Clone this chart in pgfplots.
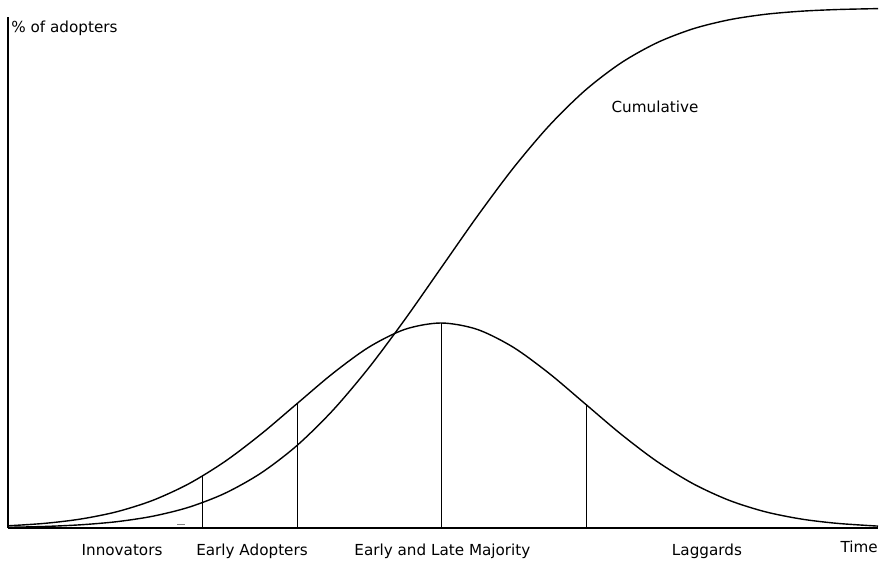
\documentclass[border=0pt]{standalone}
\usepackage{pgfplots}
\pgfplotsset{compat=1.18}
\usepackage{fontspec}
\setmainfont{DejaVu Sans}
\newcommand\lbl{\fontsize{11.4}{13.5}\selectfont}
\begin{document}
\begin{tikzpicture}
\path[use as bounding box] (-6pt,-24.75pt) rectangle (657pt,396pt);
\begin{axis}[
  scale only axis,
  width=652.5pt, height=383.25pt,
  xmin=-3.007, xmax=3.035,
  ymin=0, ymax=511,
  axis x line=bottom, axis y line=left,
  axis line style={-, line width=1.1pt},
  xtick=\empty, ytick=\empty,
  clip=false,
]
% bell curve (adopters per period)
\addplot[black, line width=1.05pt, smooth] coordinates {
(-3.007,2.2) (-2.75,4.67) (-2.5,9.01) (-2.25,16.31) (-2.0,27.74) (-1.75,44.34)
(-1.5,66.55) (-1.25,93.86) (-1.0,124.34) (-0.75,154.74) (-0.5,180.91)
(-0.25,198.69) (0,205) (0.25,198.69) (0.5,180.91) (0.75,154.74) (1.0,124.34)
(1.25,93.86) (1.5,66.55) (1.75,44.34) (2.0,27.74) (2.25,16.31) (2.5,9.01)
(2.75,4.67) (3.035,1.9)
};
% cumulative
\addplot[black, line width=1.05pt, smooth] coordinates {
(-3.007,0.68) (-2.75,1.55) (-2.5,3.23) (-2.25,6.35) (-2.0,11.83) (-1.75,20.83)
(-1.5,34.74) (-1.25,54.94) (-1.0,82.50) (-0.75,117.85) (-0.5,160.44)
(-0.25,208.67) (0,260) (0.25,311.33) (0.5,359.56) (0.75,402.15) (1.0,437.50)
(1.25,465.06) (1.5,485.26) (1.75,499.17) (2.0,508.17) (2.25,513.65)
(2.5,516.77) (2.75,518.45) (3.035,519.4)
};
% category separators
\addplot[black, line width=0.6pt] coordinates {(-1.66,0) (-1.66,51.7)};
\addplot[black, line width=0.6pt] coordinates {(-1.0,0) (-1.0,124.34)};
\addplot[black, line width=0.6pt] coordinates {(0,0) (0,205)};
\addplot[black, line width=0.6pt] coordinates {(1.007,0) (1.007,123.5)};
% tiny dash
\addplot[gray, line width=0.5pt] coordinates {(-1.83,3.5) (-1.78,3.5)};
% labels
\node[anchor=base west, inner sep=0pt] at (axis cs:-2.985,495) {\lbl\% of adopters};
\node[anchor=base] at (axis cs:-2.215,-27) {\lbl Innovators};
\node[anchor=base] at (axis cs:-1.3125,-27) {\lbl Early Adopters};
\node[anchor=base] at (axis cs:0.01,-27) {\lbl Early and Late Majority};
\node[anchor=base] at (axis cs:1.847,-27) {\lbl Laggards};
\node[anchor=base east, inner sep=0pt] at (axis cs:3.035,-24) {\lbl Time};
\node[anchor=base] at (axis cs:1.486,415) {\lbl Cumulative};
\end{axis}
\end{tikzpicture}
\end{document}
